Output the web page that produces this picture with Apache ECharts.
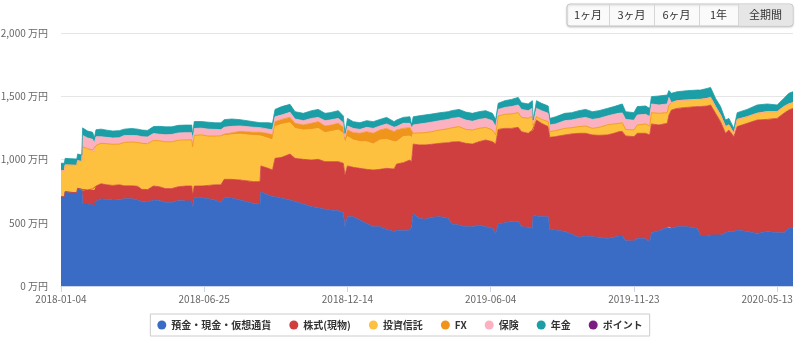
<!DOCTYPE html>
<html>
<head>
<meta charset="utf-8">
<script src="https://cdn.jsdelivr.net/npm/echarts@6.0.0/dist/echarts.min.js"></script>
<style>
html,body{margin:0;padding:0;background:#fff;}
#chart{width:800px;height:342px;}
</style>
</head>
<body>
<div id="chart"></div>
<script>
// ---------- data ----------
const dates = ['2018-01-04','2018-01-08','2018-01-09','2018-01-16','2018-01-23','2018-01-24','2018-01-29','2018-01-30','2018-02-05','2018-02-11',
'2018-02-13','2018-02-15','2018-02-21','2018-02-28','2018-03-07','2018-03-15','2018-03-21','2018-03-30','2018-04-06','2018-04-11',
'2018-04-18','2018-04-25','2018-05-02','2018-05-09','2018-05-17','2018-05-25','2018-06-03','2018-06-10','2018-06-11','2018-06-13',
'2018-06-21','2018-06-30','2018-07-08','2018-07-15','2018-07-19','2018-07-28','2018-08-07','2018-08-23','2018-08-31','2018-09-01',
'2018-09-10','2018-09-15','2018-09-18','2018-09-26','2018-10-06','2018-10-12','2018-10-22','2018-11-01','2018-11-09','2018-11-17',
'2018-11-23','2018-12-03','2018-12-09','2018-12-11','2018-12-14','2018-12-21','2018-12-29','2019-01-06','2019-01-14','2019-01-22',
'2019-01-30','2019-02-08','2019-02-11','2019-02-19','2019-02-27','2019-03-01','2019-03-03','2019-03-10','2019-03-17','2019-03-25',
'2019-04-04','2019-04-14','2019-04-18','2019-04-27','2019-05-05','2019-05-13','2019-05-21','2019-05-29','2019-06-06','2019-06-10',
'2019-06-13','2019-06-21','2019-06-29','2019-07-07','2019-07-11','2019-07-19','2019-07-24','2019-07-25','2019-07-29','2019-08-04',
'2019-08-12','2019-08-14','2019-08-21','2019-09-01','2019-09-09','2019-09-18','2019-09-26','2019-10-04','2019-10-12','2019-10-22',
'2019-10-30','2019-11-05','2019-11-09','2019-11-13','2019-11-23','2019-11-27','2019-12-07','2019-12-12','2019-12-14','2019-12-23',
'2020-01-02','2020-01-04','2020-01-07','2020-01-14','2020-01-26','2020-02-07','2020-02-11','2020-02-19','2020-02-23','2020-02-29',
'2020-03-06','2020-03-12','2020-03-16','2020-03-22','2020-03-26','2020-04-07','2020-04-19','2020-05-01','2020-05-13','2020-05-21',
'2020-05-27','2020-06-01'];

const cashValues = [706,706,746,740,738,772,764,648,648,642,
632,670,688,685,680,682,690,690,680,667,
665,680,675,662,660,675,672,672,614,700,
700,690,680,660,700,695,680,653,648,746,
719,706,706,693,680,667,648,627,619,606,
601,595,580,469,548,548,522,495,469,469,
447,430,443,437,443,469,574,535,527,543,
548,535,490,482,469,469,482,469,456,416,
490,500,509,509,469,464,456,561,553,548,
548,447,443,430,411,385,395,390,385,375,
385,395,395,358,355,377,374,350,421,437,
463,469,456,469,469,456,395,395,403,403,
403,421,430,430,443,430,416,430,421,421,
456,463];

const stockValues = [0,0,0,0,0,0,0,106,112,126,
127,120,120,115,115,118,102,102,108,97,
97,110,110,108,110,110,118,118,106,90,
90,105,120,140,143,148,158,172,177,203,
211,211,303,324,363,342,353,369,382,377,
382,388,390,408,401,390,408,427,448,453,
483,495,521,538,553,511,548,580,588,577,
580,598,648,659,659,653,659,685,685,706,
748,746,737,745,751,743,777,672,759,738,
712,728,738,764,791,822,812,804,806,819,
822,825,827,828,826,830,833,844,860,836,
823,881,935,935,943,962,1023,1028,1028,962,
896,786,803,751,817,856,896,887,904,944,
935,941];

const fundValues = [206,206,211,215,215,219,219,347,325,307,
303,320,320,325,325,322,343,346,347,364,
363,360,363,370,370,367,365,365,381,400,
405,390,385,380,347,352,362,365,363,236,
237,237,251,261,248,237,232,242,245,229,
237,250,237,251,232,216,211,219,205,232,
229,215,177,206,190,190,85,95,97,100,
105,110,112,119,110,111,105,100,92,72,
106,111,114,116,113,118,107,37,26,31,
39,45,47,52,49,53,58,52,63,79,
74,66,68,52,52,66,74,71,89,92,
84,80,58,61,58,57,57,60,60,53,
53,53,40,26,57,52,53,61,53,53,
48,45];

const fxValues = [0,0,0,0,0,0,0,0,0,0,
0,0,0,0,0,0,0,0,0,0,
0,0,0,0,0,0,0,0,0,0,
0,0,0,8,10,15,22,25,27,30,
38,41,39,39,42,40,40,48,53,53,
50,53,47,32,52,58,66,79,85,79,
87,80,92,65,65,60,0,0,0,0,
0,0,0,0,0,0,0,0,0,0,
0,0,0,0,0,0,0,0,0,0,
0,0,0,0,0,0,0,0,0,0,
0,0,0,0,0,0,0,0,0,0,
0,0,0,0,0,0,0,0,0,0,
0,0,0,0,0,0,0,0,0,0,
0,0];

const insuranceValues = [0,0,0,0,0,0,0,89,85,85,
68,70,52,50,50,50,55,52,53,52,
53,55,52,55,58,58,57,57,50,55,
53,55,53,47,55,52,43,40,37,35,
35,40,39,35,40,34,34,39,34,42,
42,39,37,20,32,34,31,34,39,32,
35,35,27,40,35,20,66,70,74,75,
74,74,75,73,74,69,71,71,74,66,
52,55,58,61,63,61,65,20,66,69,
66,53,53,61,61,65,68,71,71,71,
76,79,78,79,77,79,76,75,69,66,
69,60,0,0,0,0,0,0,0,0,
0,0,0,0,0,0,0,0,0,0,
0,0];

const pensionValues = [58,58,52,51,51,52,53,60,55,55,
40,55,60,57,55,56,50,55,52,53,
52,55,62,63,60,60,60,60,45,55,
52,55,52,55,60,58,50,44,39,40,
51,51,58,66,63,58,58,61,63,58,
58,61,53,27,60,53,53,53,53,52,
52,44,52,47,52,23,65,65,66,64,
63,61,61,63,63,63,61,61,58,57,
48,53,57,60,53,53,60,22,61,58,
58,52,57,58,58,61,63,61,61,60,
61,66,71,61,60,66,66,64,58,71,
71,55,74,71,74,74,74,79,79,65,
66,52,52,39,53,58,66,61,53,65,
84,87];

const pointValues = [];

const seriesNames = ['預金・現金・仮想通貨','株式(現物)','投資信託','FX','保険','年金','ポイント'];
const xTickLabels = ['2018-01-04','2018-06-25','2018-12-14','2019-06-04','2019-11-23','2020-05-13'];
const yTickValues = [0,500,1000,1500,2000];
const yUnit = '万円';
const rangeButtons = ['1ヶ月','3ヶ月','6ヶ月','1年','全期間'];

// ---------- chart ----------
const FONT = "'Noto Sans CJK JP','Noto Sans',sans-serif";
const colors = ['#3a6cc6','#cf3f3f','#fdc13f','#f0951c','#fcb1c0','#1b9ea6','#7b1c82'];

// daily category axis spanning the data range
const DAY = 86400000;
const t0 = Date.parse(dates[0] + 'T00:00:00Z');
const t1 = Date.parse(dates[dates.length - 1] + 'T00:00:00Z');
const allDays = [];
for (let t = t0; t <= t1; t += DAY) allDays.push(new Date(t).toISOString().slice(0, 10));
const tickSet = new Set(xTickLabels);
const tickIdx = new Set(xTickLabels.map(s => allDays.indexOf(s)));
const lastTick = xTickLabels[xTickLabels.length - 1];

const valueSets = [cashValues, stockValues, fundValues, fxValues, insuranceValues, pensionValues, pointValues];
const series = seriesNames.map((name, k) => ({
  name: name,
  type: 'line',
  stack: 'total',
  symbol: 'none',
  showSymbol: false,
  animation: false,
  connectNulls: true,
  lineStyle: { width: 0.8, color: colors[k] },
  itemStyle: { color: colors[k] },
  areaStyle: { color: colors[k], opacity: 1 },
  data: valueSets[k].map((v, i) => [dates[i], v])
}));

// range selector buttons (decorative)
const btnEdges = [567, 609, 654, 699, 738, 793];
const btnTop = 4, btnH = 22;
const graphics = [{
  type: 'rect', z: 10,
  shape: { x: btnEdges[0], y: btnTop, width: btnEdges[5] - btnEdges[0], height: btnH, r: 3 },
  style: { fill: '#fafafa', stroke: '#c8c8c8', lineWidth: 1, shadowBlur: 2, shadowOffsetY: 1, shadowColor: 'rgba(0,0,0,0.18)' }
}, {
  type: 'rect', z: 11,
  shape: { x: btnEdges[4] + 0.5, y: btnTop + 0.5, width: btnEdges[5] - btnEdges[4] - 1, height: btnH - 1, r: [0, 3, 3, 0] },
  style: { fill: '#e6e6e6' }
}];
for (let i = 1; i < 5; i++) {
  graphics.push({
    type: 'line', z: 12,
    shape: { x1: btnEdges[i] + 0.5, y1: btnTop, x2: btnEdges[i] + 0.5, y2: btnTop + btnH },
    style: { stroke: '#d6d6d6', lineWidth: 1 }
  });
}
rangeButtons.forEach((t, i) => {
  graphics.push({
    type: 'text', z: 13,
    style: {
      text: t, x: (btnEdges[i] + btnEdges[i + 1]) / 2, y: btnTop + btnH / 2,
      align: 'center', verticalAlign: 'middle',
      fill: '#333', fontSize: 11, fontFamily: FONT
    }
  });
});

const chart = echarts.init(document.getElementById('chart'), null, { renderer: 'canvas' });
chart.setOption({
  animation: false,
  backgroundColor: '#fff',
  textStyle: { fontFamily: FONT },
  grid: { left: 61, right: 7, top: 33, bottom: 56, containLabel: false, outerBoundsMode: 'none' },
  xAxis: {
    type: 'category',
    data: allDays,
    boundaryGap: false,
    splitLine: { show: false },
    axisLine: { show: true, lineStyle: { color: '#ccd6eb', width: 1 } },
    axisTick: { show: true, length: 6, lineStyle: { color: '#ccd6eb' }, interval: (i) => tickIdx.has(i) },
    axisLabel: {
      interval: (i, v) => tickSet.has(v),
      formatter: v => (v === lastTick ? '{last|' + v + '}' : v),
      rich: { last: { padding: [0, 20, 0, 0], color: '#666', fontSize: 10, fontFamily: FONT } },
      color: '#666', fontSize: 10, margin: 8, fontFamily: FONT,
      hideOverlap: false
    }
  },
  yAxis: {
    type: 'value',
    min: yTickValues[0],
    max: yTickValues[yTickValues.length - 1],
    interval: yTickValues[1] - yTickValues[0],
    axisLine: { show: false },
    axisTick: { show: false },
    splitLine: { lineStyle: { color: '#e6e6e6', width: 1 } },
    axisLabel: {
      formatter: v => v.toLocaleString('en-US') + ' ' + yUnit,
      color: '#666', fontSize: 10, margin: 13, fontFamily: FONT
    }
  },
  legend: {
    data: seriesNames,
    top: 314,
    left: 'center',
    icon: 'circle',
    itemWidth: 9,
    itemHeight: 9,
    itemGap: 18,
    padding: [5, 7],
    borderColor: '#cccccc',
    borderWidth: 1,
    textStyle: { fontSize: 10, fontWeight: 'bold', color: '#333', fontFamily: FONT, lineHeight: 12 }
  },
  graphic: graphics,
  series: series
});
</script>
</body>
</html>
